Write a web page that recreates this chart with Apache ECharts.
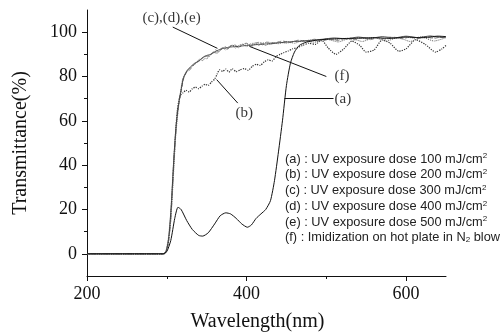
<!DOCTYPE html>
<html>
<head>
<meta charset="utf-8">
<script src="https://cdn.jsdelivr.net/npm/echarts@6/dist/echarts.min.js"></script>
<style>
  html, body { margin: 0; padding: 0; background: #fff; }
  #main { width: 502px; height: 334px; }
</style>
</head>
<body>
<div id="main"></div>
<script>
// tick labels
var xTicks = [200, 400, 600];
var xMinorTicks = [300, 500];
var yTicks = [0, 20, 40, 60, 80, 100];
var yMinorTicks = [10, 30, 50, 70, 90];

// [wavelength, transmittance]
var curveA = [[200,0],[295,0],[300,1],[305,6],[310,16],[314,21],[318,20],[325,15],[332,11],[340,8.3],[345,8],[352,9.5],[360,13.5],[367,17.2],[374,18.5],[380,18],[387,16],[394,13.5],[401,12],[406,13],[412,16],[418,18],[424,20],[430,24],[435,33],[440,46],[445,60],[450,76],[455,86],[460,91],[466,94],[475,95.5],[490,96.5],[510,97],[540,97.3],[560,97.5],[580,97.2],[600,97.8],[620,97.5],[640,98.2],[650,98]];
var curveB = [[200,0],[296,0],[299,1],[302,5],[305,16],[308,36],[311,54],[313,64],[315,69],[317,71.5],[320,72.5],[324,73.8],[328,73],[332,74.5],[336,75.2],[340,74.5],[344,75.6],[348,76.5],[352,76],[356,77.5],[360,78.8],[363,81],[366,83],[370,82.3],[374,83.3],[378,82],[382,83.5],[387,82.2],[392,83],[397,83.6],[402,82.8],[407,84.5],[412,85.5],[417,85],[422,86.5],[427,87.5],[432,87],[437,89],[442,90],[447,90.8],[452,91.5],[458,92.5],[464,93],[470,94],[478,95],[486,94.5],[494,96.5],[502,93],[512,90],[522,92.5],[532,96],[542,94],[550,91],[560,92],[570,96.5],[580,95],[591,91.4],[600,92.5],[612,96.6],[624,94.5],[637,91],[645,92.5],[650,94]];
var curveC = [[200,0],[296,0],[299,1],[302,5],[305,15],[308,33],[311,52],[314,64],[316,70],[318,75],[320,79],[323,81],[326,82.5],[330,84],[334,85.5],[338,86.5],[342,87.5],[346,88.5],[350,88],[354,89.5],[358,91],[362,90.5],[366,92],[370,93],[374,92],[378,93.5],[382,94],[386,92.8],[390,94],[395,94.5],[400,93.5],[405,94.8],[410,95],[415,94],[420,95],[425,95.3],[430,94.5],[440,95.5],[450,95],[460,96],[470,95.8],[480,96.5],[490,96],[500,97],[510,96.5],[520,97.2],[530,96.8],[540,97.5],[550,97],[560,97.6],[570,97],[580,97.8],[590,97.2],[600,97.8],[610,97.3],[620,98],[630,97.4],[640,98],[650,97.6]];
var curveD = [[200,0],[297,0],[300,2],[303,8],[306,22],[309,42],[312,58],[315,67],[318,73],[321,79],[325,82],[329,83],[333,85],[337,86],[341,87.8],[345,87.2],[349,89],[353,89.6],[357,90.5],[361,92],[365,91.2],[369,92.6],[373,93.5],[377,92.5],[381,94],[385,94.3],[390,93.2],[395,94.6],[400,95],[405,93.8],[410,95],[415,95.4],[420,94.3],[425,95.5],[435,95.2],[445,96],[455,95.3],[465,96.4],[475,95.8],[485,96.8],[495,96],[505,97],[515,96.2],[525,97.3],[535,96.5],[545,97.5],[555,96.6],[565,97.6],[575,96.8],[585,97.7],[595,97],[605,97.8],[615,97.1],[625,97.9],[635,97.2],[645,97.9],[650,97.6]];
var curveE = [[200,0],[296,0],[299,1.5],[302,7],[305,19],[308,38],[311,55],[314,66],[317,72],[320,78],[324,81.5],[328,83.5],[332,84.5],[336,86],[340,86.8],[344,88],[348,89.2],[352,88.8],[356,90.2],[360,91.2],[364,90.6],[368,92.2],[372,93],[376,92.2],[380,93.8],[385,94],[390,93],[395,94.3],[400,94.8],[406,93.6],[412,94.8],[418,95.2],[424,94],[430,95.2],[440,94.8],[450,95.8],[460,95],[470,96.2],[485,95.5],[500,96.8],[515,95.6],[530,97.3],[545,95.8],[560,97.5],[575,96],[590,97.6],[605,95.8],[620,97.7],[635,96],[650,97.5]];
var curveF = [[200,0],[297,0],[300,2],[303,9],[306,24],[309,44],[312,59],[315,68],[318,74],[321,79.5],[325,82.5],[330,84.5],[335,86],[340,87],[345,88.6],[350,89.5],[355,90],[360,91],[365,92],[370,92.6],[375,93],[380,93.3],[390,93.6],[400,94],[410,94.3],[420,94.6],[430,94.8],[440,95.2],[450,95.5],[460,95.8],[470,96],[480,96.3],[495,96.8],[510,97.4],[525,97],[540,97.8],[555,97.2],[570,98],[585,97.4],[600,98.2],[615,97.5],[630,98.3],[645,97.6],[650,97.8]];

// pointer lines [from, to] and their labels [x, y, text]
var pointers = [
  [[307.5, 102.3], [363.5, 92.7]],
  [[403.5, 93.6], [500, 80]],
  [[447.5, 70], [509, 70]],
  [[362.5, 78.6], [389, 68]]
];
var pointerLabels = [
  [306, 106.2, '(c),(d),(e)'],
  [509, 80, '(f)'],
  [509, 70, '(a)'],
  [397, 63.5, '(b)']
];

var legendLines = [
  '(a) : UV exposure dose 100 mJ/cm{sup|2}',
  '(b) : UV exposure dose 200 mJ/cm{sup|2}',
  '(c) : UV exposure dose 300 mJ/cm{sup|2}',
  '(d) : UV exposure dose 400 mJ/cm{sup|2}',
  '(e) : UV exposure dose 500 mJ/cm{sup|2}',
  '(f) : Imidization on hot plate in N{sub|2} blow'
];

var chart = echarts.init(document.getElementById('main'));

var serif = '"Liberation Serif", "DejaVu Serif", serif';
var sans = '"Liberation Sans", Arial, sans-serif';

var legendGraphics = legendLines.map(function (t, i) {
  return {
    type: 'text',
    left: 285,
    top: 152 + i * 15.8,
    style: {
      text: t,
      font: '12.8px ' + sans,
      fill: '#222',
      rich: {
        sup: { fontSize: 8, verticalAlign: 'top', padding: [0, 0, 6, 0], fontFamily: sans, fill: '#222' },
        sub: { fontSize: 8, padding: [5, 0, 0, 0], fontFamily: sans, fill: '#222' }
      }
    }
  };
});

function curve(name, data, color, type, width) {
  return {
    name: name,
    type: 'line',
    data: data,
    showSymbol: false,
    smooth: 0.2,
    lineStyle: { color: color, width: width, type: type },
    z: 3
  };
}

var option = {
  animation: false,
  backgroundColor: '#fff',
  grid: { left: 87, right: 56, top: 10, bottom: 58, containLabel: false, outerBoundsMode: 'none' },
  xAxis: [{
    type: 'value',
    min: 200,
    max: 650,
    interval: 100,
    name: 'Wavelength(nm)',
    nameLocation: 'middle',
    nameGap: 36,
    nameTextStyle: { fontFamily: serif, fontSize: 20, color: '#111', padding: [0, 18, 0, 0] },
    axisLine: { onZero: false, lineStyle: { color: '#111', width: 1 } },
    axisTick: { show: true, length: 5, inside: false, customValues: xTicks, lineStyle: { color: '#111' } },
    axisLabel: { customValues: xTicks, fontFamily: serif, fontSize: 18, color: '#111', margin: 9 },
    splitLine: { show: false }
  }, {
    type: 'value',
    min: 200,
    max: 650,
    position: 'bottom',
    axisLine: { show: false, onZero: false },
    axisTick: { show: true, length: 3, customValues: xMinorTicks, lineStyle: { color: '#111' } },
    axisLabel: { show: false },
    splitLine: { show: false }
  }],
  yAxis: [{
    type: 'value',
    min: -10,
    max: 110,
    interval: 10,
    name: 'Transmittance(%)',
    nameLocation: 'middle',
    nameGap: 56,
    nameTextStyle: { fontFamily: serif, fontSize: 20, color: '#111' },
    axisLine: { show: true, onZero: false, lineStyle: { color: '#111', width: 1 } },
    axisTick: { show: true, length: 5, customValues: yTicks, lineStyle: { color: '#111' } },
    axisLabel: { customValues: yTicks, fontFamily: serif, fontSize: 18, color: '#111', margin: 10 },
    splitLine: { show: false }
  }, {
    type: 'value',
    min: -10,
    max: 110,
    position: 'left',
    axisLine: { show: false, onZero: false },
    axisTick: { show: true, length: 3, customValues: yMinorTicks, lineStyle: { color: '#111' } },
    axisLabel: { show: false },
    splitLine: { show: false }
  }],
  graphic: legendGraphics,
  series: [
    curve('(b)', curveB, '#333', 'dotted', 1.2),
    curve('(c)', curveC, '#777', 'dotted', 1),
    curve('(d)', curveD, '#888', 'dashed', 1),
    curve('(e)', curveE, '#666', 'dotted', 1),
    curve('(f)', curveF, '#333', 'solid', 0.8),
    Object.assign(curve('(a)', curveA, '#111', 'solid', 1), {
      markLine: {
        silent: true,
        symbol: 'none',
        label: { show: false },
        lineStyle: { color: '#111', width: 1, type: 'solid' },
        data: pointers.map(function (p) {
          return [{ coord: p[0] }, { coord: p[1] }];
        })
      }
    }),
    {
      type: 'scatter',
      symbolSize: 0,
      itemStyle: { color: '#000' },
      label: {
        show: true,
        position: 'inside',
        formatter: function (p) { return p.value[2]; },
        fontFamily: serif,
        fontSize: 15,
        color: '#000',
        textBorderWidth: 0,
        textBorderColor: 'transparent'
      },
      emphasis: { disabled: true },
      z: 5,
      // (a) and (f) labels sit to the right of the pointer end
      data: pointerLabels.map(function (l) {
        var right = l[2] === '(a)' || l[2] === '(f)';
        return {
          value: l,
          label: right ? { position: 'right', distance: 1 } : {}
        };
      })
    }
  ]
};

chart.setOption(option);
</script>
</body>
</html>
